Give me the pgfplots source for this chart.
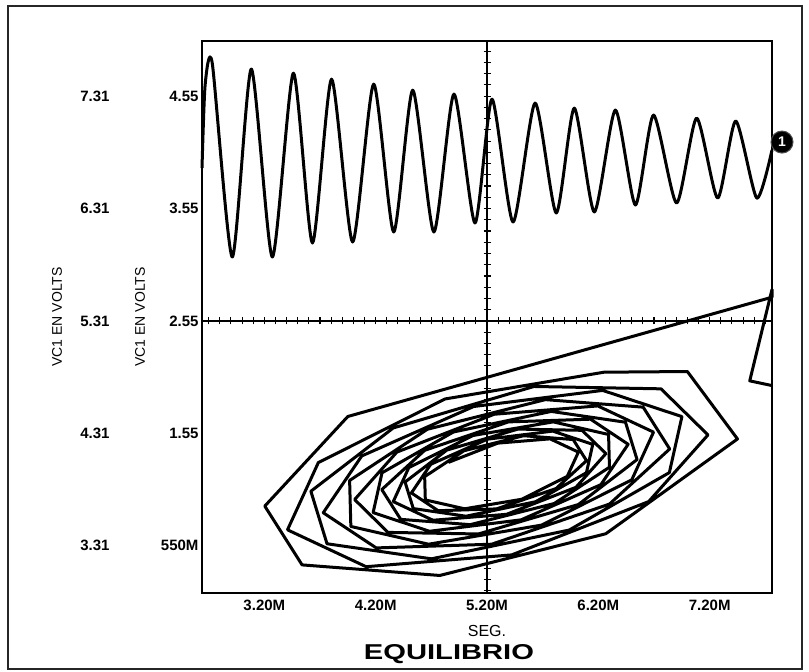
\documentclass[border=0pt]{standalone}
\usepackage{fontspec}
\setmainfont{Liberation Sans}
\usepackage{graphicx}
\usepackage{pgfplots}
\pgfplotsset{compat=1.18}

\pgfplotsset{
  frame/.style={at={(0pt,0pt)}, anchor=south west, scale only axis,
    width=570pt, height=552pt},
}
\tikzset{
  tickfont/.style={font=\fontsize{15}{15}\selectfont\bfseries},
  labfont/.style={font=\fontsize{14}{14}\selectfont},
}

\begin{document}
\begin{tikzpicture}
\useasboundingbox (-202pt,-79pt) rectangle (607pt,593pt);
\draw[line width=2pt, black!85] (-194pt,-76pt) rectangle (600pt,587pt);

% crosshair through (5.20M, 2.55) with small ticks
\begin{axis}[frame,
  xmin=-2.56, xmax=2.56, ymin=-2.42, ymax=2.49,
  axis lines*=middle,
  xtick distance=0.1, ytick distance=0.1,
  xticklabels={}, yticklabels={},
  tick align=center, major tick length=7pt,
  every tick/.style={black, line width=1.1pt},
  axis line style={line width=1.8pt},
]
\end{axis}

% outer scale
\begin{axis}[frame,
  xmin=0, xmax=1, ymin=2.89, ymax=7.80,
  hide x axis, axis y line*=left, y axis line style={draw=none},
  ytick={3.31,4.31,5.31,6.31,7.31},
  yticklabels={\textbf{3.31},\textbf{4.31},\textbf{5.31},\textbf{6.31},\textbf{7.31}},
  major tick length=0pt,
  yticklabel style={tickfont, xshift=-89pt},
  ylabel={VC1 EN VOLTS},
  every axis y label/.style={at={(axis description cs:-0.2544,0.5)}, rotate=90,
    anchor=center, labfont},
]
\end{axis}

\begin{axis}[frame,
  xmin=2.64, xmax=7.76, ymin=0.13, ymax=5.04,
  xtick={3.2,4.2,5.2,6.2,7.2},
  xticklabels={\textbf{3.20M},\textbf{4.20M},\textbf{5.20M},\textbf{6.20M},\textbf{7.20M}},
  ytick={0.55,1.55,2.55,3.55,4.55},
  yticklabels={\textbf{550M},\textbf{1.55},\textbf{2.55},\textbf{3.55},\textbf{4.55}},
  major tick length=0pt,
  ticklabel style={tickfont},
  xticklabel style={yshift=-3pt},
  axis line style={line width=1.8pt},
  xlabel={SEG.}, ylabel={VC1 EN VOLTS},
  every axis x label/.style={at={(axis description cs:0.5,-0.0688)}, anchor=center,
    font=\fontsize{16}{16}\selectfont},
  every axis y label/.style={at={(axis description cs:-0.1088,0.5)}, rotate=90,
    anchor=center, labfont},
  title={\resizebox{170pt}{15pt}{\bfseries EQUILIBRIO}},
  every axis title/.style={at={(axis description cs:0.4333,-0.1105)}, anchor=center},
  clip=false,
]
% trace 1: VC1 against time
\addplot[black, line width=3pt, line join=round, smooth, tension=0.4] coordinates {
(2.640,3.910) (2.668,4.648) (2.732,4.843) (2.912,3.119) (3.083,4.790) (3.272,3.119)
(3.461,4.754) (3.632,3.243) (3.804,4.701) (3.993,3.252) (4.182,4.657) (4.362,3.341)
(4.533,4.603) (4.723,3.341) (4.903,4.568) (5.092,3.421) (5.245,4.523) (5.434,3.430)
(5.632,4.488) (5.822,3.510) (5.984,4.443) (6.164,3.519) (6.353,4.426) (6.533,3.581)
(6.696,4.381) (6.903,3.599) (7.083,4.354) (7.272,3.643) (7.434,4.328) (7.623,3.643)
(7.760,4.070)
};
\node[circle, fill=black, draw=black!70, line width=1pt, text=white,
  minimum size=22pt, inner sep=0pt, xshift=10pt, yshift=8pt,
  font=\fontsize{14}{14}\selectfont\bfseries]
  at (axis cs:7.76,4.07) {1};

% phase trajectory spiralling to equilibrium
\addplot[black, line width=3pt, line join=round] coordinates {
(7.76,1.975) (7.56,2.017) (7.76,2.83) (7.76,2.761) (3.95,1.70)
(3.204,0.903) (3.539,0.380) (4.776,0.286) (6.267,0.657) (7.45,1.50) (7.00,2.10)
(6.251,2.094) (4.824,1.856) (3.685,1.290) (3.408,0.692) (4.114,0.364) (5.422,0.469)
(6.652,0.943) (7.185,1.536) (6.763,1.946) (5.622,1.967) (4.358,1.598) (3.618,1.035)
(3.763,0.568) (4.701,0.434) (5.938,0.690) (6.838,1.201) (6.951,1.699) (6.239,1.932)
(5.081,1.789) (4.075,1.349) (3.729,0.844) (4.205,0.531) (5.242,0.564) (6.300,0.921)
(6.841,1.411) (6.603,1.783) (5.724,1.850) (4.664,1.586) (3.966,1.131) (3.977,0.722)
(4.675,0.564) (5.690,0.734) (6.500,1.136) (6.696,1.561) (6.195,1.794) (5.265,1.720)
(4.390,1.383) (4.011,0.961) (4.311,0.669) (5.123,0.655) (6.021,0.917) (6.548,1.317)
(6.444,1.649) (5.777,1.745) (4.898,1.562) (4.257,1.199) (4.177,0.845) (4.684,0.679)
(5.507,0.781) (6.223,1.094) (6.468,1.453) (6.130,1.676) (5.393,1.652) (4.640,1.399)
(4.255,1.050) (4.425,0.785) (5.050,0.738) (5.804,0.926) (6.300,1.249) (6.292,1.540)
(5.795,1.652) (5.074,1.531) (4.498,1.246) (4.358,0.943) (4.715,0.777) (5.376,0.830)
(5.999,1.070) (6.268,1.370) (6.054,1.577) (5.478,1.588) (4.839,1.401) (4.464,1.117)
(4.538,0.881) (5.012,0.813) (5.637,0.942) (6.093,1.200) (6.150,1.452) (5.790,1.570)
(5.204,1.498) (4.695,1.275) (4.521,1.020) (4.761,0.862) (5.285,0.878) (5.820,1.059)
(6.094,1.307) (5.974,1.495) (5.529,1.529) (4.993,1.395) (4.640,1.165) (4.646,0.958)
(4.999,0.879) (5.512,0.964) (5.921,1.168) (6.021,1.383) (5.767,1.501) (5.297,1.463)
(4.854,1.292)
};
\end{axis}
\end{tikzpicture}
\end{document}
